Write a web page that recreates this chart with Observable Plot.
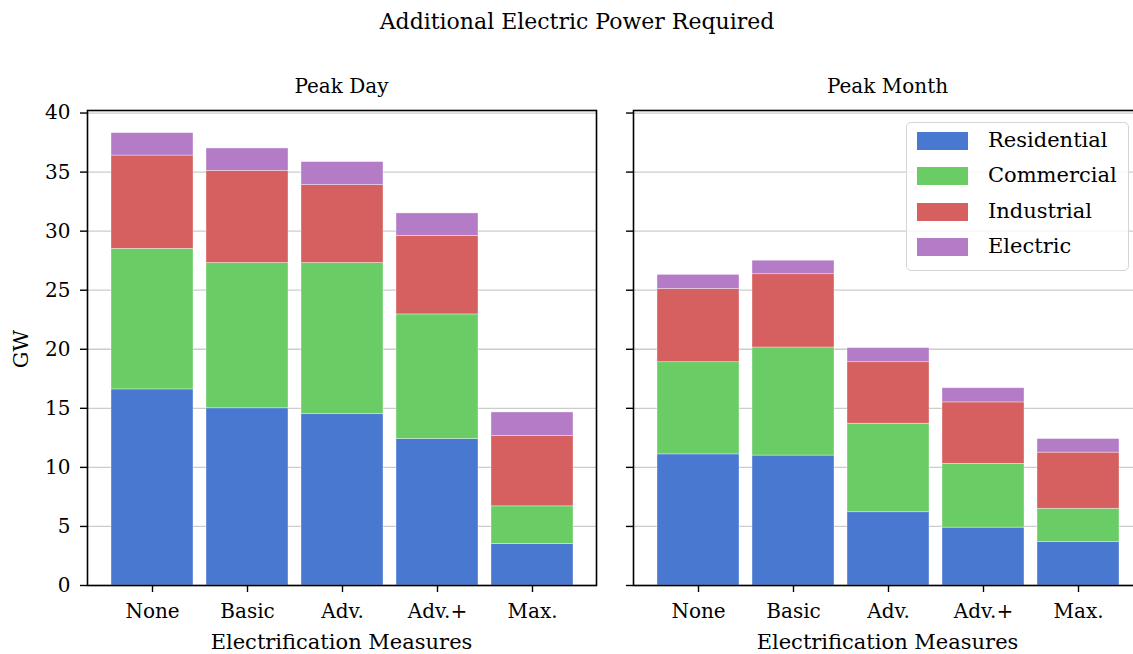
<!DOCTYPE html>
<html>
<head>
<meta charset="utf-8">
<script src="https://cdn.jsdelivr.net/npm/d3@7"></script>
<script src="https://cdn.jsdelivr.net/npm/@observablehq/plot@0.6"></script>
<style>
  html, body { margin: 0; padding: 0; background: white; overflow: hidden; }
  #root { position: relative; width: 1133px; height: 654px; overflow: hidden; font-family: "DejaVu Serif", serif; color: #000; }
  .abs { position: absolute; white-space: nowrap; line-height: 1; }
  .title { font-size: 21px; transform: translate(-50%, -50%); }
  .panel-svg { position: absolute; top: 0; }
  #legend { position: absolute; left: 906px; top: 122px; width: 221px; height: 147px; border: 1.5px solid #d5d5d5; border-radius: 5px; background: rgba(255,255,255,0.8); }
  .lrow { position: absolute; left: 0; height: 20px; }
  .lsw { position: absolute; left: 10px; width: 51px; height: 18px; }
  .ltx { position: absolute; left: 81px; font-size: 21px; line-height: 21px; top: -2px; }
</style>
</head>
<body>
<div id="root"></div>
<script>
const measures = ["None", "Basic", "Adv.", "Adv.+", "Max."];
const sectors = ["Residential", "Commercial", "Industrial", "Electric"];
const sectorColors = ["#4878d0", "#6acc64", "#d65f5f", "#b47cc7"];
const yTicks = [0, 5, 10, 15, 20, 25, 30, 35, 40];

// Peak Day (GW)
const dayResidential = [16.6, 15.0, 14.5, 12.4, 3.5];
const dayCommercial  = [11.9, 12.3, 12.8, 10.55, 3.2];
const dayIndustrial  = [7.9, 7.8, 6.6, 6.65, 5.95];
const dayElectric    = [1.9, 1.9, 1.95, 1.9, 2.0];

// Peak Month (GW)
const monthResidential = [11.1, 11.0, 6.2, 4.9, 3.7];
const monthCommercial  = [7.8, 9.15, 7.5, 5.4, 2.8];
const monthIndustrial  = [6.2, 6.2, 5.2, 5.2, 4.75];
const monthElectric    = [1.2, 1.15, 1.2, 1.2, 1.15];

function toRows(series) {
  const rows = [];
  sectors.forEach((s, si) => {
    measures.forEach((m, mi) => rows.push({measure: m, sector: s, value: series[si][mi]}));
  });
  return rows;
}
const dayRows = toRows([dayResidential, dayCommercial, dayIndustrial, dayElectric]);
const monthRows = toRows([monthResidential, monthCommercial, monthIndustrial, monthElectric]);

const maxTotal = d3.max([...d3.rollup(dayRows, v => d3.sum(v, d => d.value), d => d.measure).values(),
                         ...d3.rollup(monthRows, v => d3.sum(v, d => d.value), d => d.measure).values()]);
const yMax = maxTotal * 1.05;

const root = document.getElementById("root");

function panel(rows, showLabels) {
  return Plot.plot({
    width: 600,
    height: 654,
    marginLeft: 87,
    marginRight: 4,
    marginTop: 110,
    marginBottom: 69,
    style: {fontFamily: "DejaVu Serif, serif", fontSize: "20px", color: "#000", background: "transparent", overflow: "visible"},
    x: {type: "band", domain: measures, paddingInner: 0.14, paddingOuter: 0.24, align: 0.5, label: null},
    y: {domain: [0, yMax], label: null},
    color: {domain: sectors, range: sectorColors},
    marks: [
      Plot.gridY(yTicks, {stroke: "#cccccc", strokeOpacity: 1, strokeWidth: 1.3}),
      Plot.barY(rows, {x: "measure", y: "value", fill: "sector", order: sectors, stroke: "#ffffff", strokeWidth: 0.6, strokeOpacity: 0.6}),
      Plot.axisY({ticks: yTicks, tickSize: 7, tickPadding: 10, fontSize: 20, tickFormat: showLabels ? (d => d) : () => "", strokeWidth: 1.4, label: null}),
      Plot.axisX({tickSize: 7, tickPadding: 11, fontSize: 20, strokeWidth: 1.4, label: null}),
      Plot.frame({stroke: "#000", strokeWidth: 1.6})
    ]
  });
}

const p1 = panel(dayRows, true);
p1.classList.add("panel-svg");
p1.style.left = "0px";
root.appendChild(p1);

const p2 = panel(monthRows, false);
p2.classList.add("panel-svg");
p2.style.left = "546px";
root.appendChild(p2);

function addText(txt, x, y, size, extra) {
  const d = document.createElement("div");
  d.className = "abs title";
  d.textContent = txt;
  d.style.left = x + "px";
  d.style.top = y + "px";
  d.style.fontSize = size + "px";
  if (extra) Object.assign(d.style, extra);
  root.appendChild(d);
  return d;
}

addText("Additional Electric Power Required", 577, 22, 22);
addText("Peak Day", 341.5, 86, 20);
addText("Peak Month", 887.5, 86, 20);
addText("Electrification Measures", 341.5, 642, 21);
addText("Electrification Measures", 887.5, 642, 21);
addText("GW", 21, 349, 21, {transform: "translate(-50%, -50%) rotate(-90deg)"});

const legend = document.createElement("div");
legend.id = "legend";
sectors.forEach((s, i) => {
  const row = document.createElement("div");
  row.className = "lrow";
  row.style.top = (9 + i * 35.3) + "px";
  const sw = document.createElement("div");
  sw.className = "lsw";
  sw.style.background = sectorColors[i];
  const tx = document.createElement("div");
  tx.className = "ltx";
  tx.textContent = s;
  row.appendChild(sw);
  row.appendChild(tx);
  legend.appendChild(row);
});
root.appendChild(legend);
</script>
</body>
</html>
